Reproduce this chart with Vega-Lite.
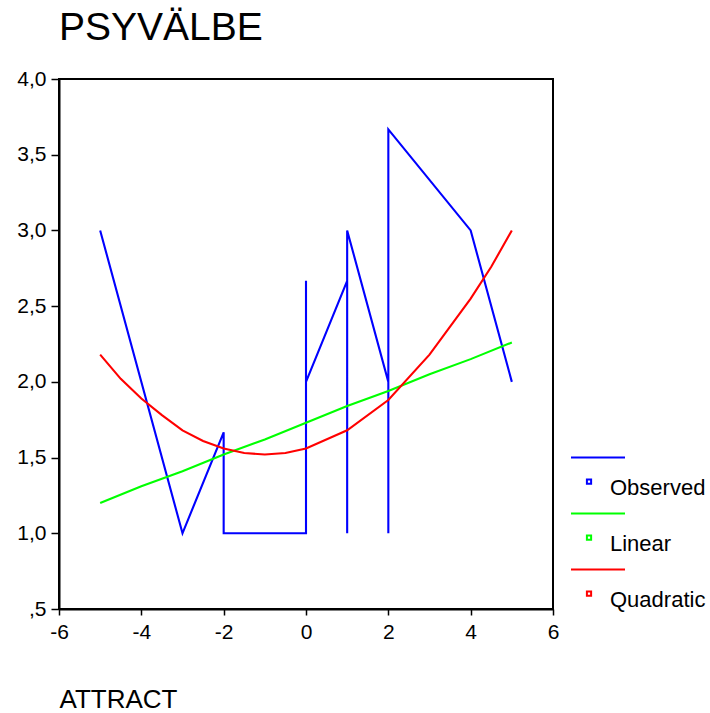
{
  "$schema": "https://vega.github.io/schema/vega-lite/v6.json",
  "width": 494,
  "height": 530,
  "autosize": "none",
  "padding": {"left": 59, "top": 79, "right": 157, "bottom": 104},
  "background": "white",
  "title": {"text": "PSYVÄLBE", "anchor": "start", "frame": "group", "offset": 20, "fontSize": 39, "font": "Liberation Sans", "fontWeight": "normal", "color": "black"},
  "config": {"view": {"stroke": "black", "strokeWidth": 2}, "font": "Liberation Sans"},
  "data": {"values": [
    {"series": "Observed", "seq": 1, "x": -5, "y": 3.0},
    {"series": "Observed", "seq": 2, "x": -3, "y": 1.0},
    {"series": "Observed", "seq": 3, "x": -2, "y": 1.667},
    {"series": "Observed", "seq": 4, "x": -2, "y": 1.333},
    {"series": "Observed", "seq": 5, "x": -2, "y": 1.0},
    {"series": "Observed", "seq": 6, "x": -1, "y": 1.0},
    {"series": "Observed", "seq": 7, "x": 0, "y": 1.0},
    {"series": "Observed", "seq": 8, "x": 0, "y": 2.667},
    {"series": "Observed", "seq": 9, "x": 0, "y": 2.0},
    {"series": "Observed", "seq": 10, "x": 1, "y": 2.667},
    {"series": "Observed", "seq": 11, "x": 1, "y": 1.0},
    {"series": "Observed", "seq": 12, "x": 1, "y": 3.0},
    {"series": "Observed", "seq": 13, "x": 2, "y": 2.0},
    {"series": "Observed", "seq": 14, "x": 2, "y": 1.0},
    {"series": "Observed", "seq": 15, "x": 2, "y": 3.667},
    {"series": "Observed", "seq": 16, "x": 4, "y": 3.0},
    {"series": "Observed", "seq": 17, "x": 5, "y": 2.0},
    {"series": "Linear", "seq": 1, "x": -5, "y": 1.20},
    {"series": "Linear", "seq": 2, "x": -4, "y": 1.31},
    {"series": "Linear", "seq": 3, "x": -3, "y": 1.41},
    {"series": "Linear", "seq": 4, "x": -2, "y": 1.52},
    {"series": "Linear", "seq": 5, "x": -1, "y": 1.62},
    {"series": "Linear", "seq": 6, "x": 0, "y": 1.73},
    {"series": "Linear", "seq": 7, "x": 1, "y": 1.84},
    {"series": "Linear", "seq": 8, "x": 2, "y": 1.94},
    {"series": "Linear", "seq": 9, "x": 3, "y": 2.05},
    {"series": "Linear", "seq": 10, "x": 4, "y": 2.15},
    {"series": "Linear", "seq": 11, "x": 5, "y": 2.26},
    {"series": "Quadratic", "seq": 1, "x": -5, "y": 2.18},
    {"series": "Quadratic", "seq": 2, "x": -4.5, "y": 2.02},
    {"series": "Quadratic", "seq": 3, "x": -4, "y": 1.89},
    {"series": "Quadratic", "seq": 4, "x": -3.5, "y": 1.78},
    {"series": "Quadratic", "seq": 5, "x": -3, "y": 1.68},
    {"series": "Quadratic", "seq": 6, "x": -2.5, "y": 1.61},
    {"series": "Quadratic", "seq": 7, "x": -2, "y": 1.56},
    {"series": "Quadratic", "seq": 8, "x": -1.5, "y": 1.53},
    {"series": "Quadratic", "seq": 9, "x": -1, "y": 1.52},
    {"series": "Quadratic", "seq": 10, "x": -0.5, "y": 1.53},
    {"series": "Quadratic", "seq": 11, "x": 0, "y": 1.56},
    {"series": "Quadratic", "seq": 12, "x": 1, "y": 1.68},
    {"series": "Quadratic", "seq": 13, "x": 2, "y": 1.88},
    {"series": "Quadratic", "seq": 14, "x": 3, "y": 2.18},
    {"series": "Quadratic", "seq": 15, "x": 4, "y": 2.55},
    {"series": "Quadratic", "seq": 16, "x": 4.5, "y": 2.76},
    {"series": "Quadratic", "seq": 17, "x": 5, "y": 3.0}
  ]},
  "mark": {"type": "line", "strokeWidth": 2.1, "interpolate": "linear"},
  "encoding": {
    "x": {"field": "x", "type": "quantitative",
      "scale": {"domain": [-6, 6], "nice": false, "zero": false},
      "axis": {"values": [-6, -4, -2, 0, 2, 4, 6], "labelExpr": "'' + datum.value", "grid": false,
        "labelFontSize": 21, "labelColor": "black", "labelFont": "Liberation Sans",
        "labelFlush": false, "labelOverlap": false,
        "tickColor": "black", "tickSize": 6, "tickWidth": 1.5,
        "domainColor": "black", "domainWidth": 2, "labelPadding": 6,
        "title": "ATTRACT", "titleFontSize": 26, "titleFontWeight": "normal", "titleColor": "black",
        "titleFont": "Liberation Sans",
        "titleAnchor": "start", "titleAlign": "left", "titleBaseline": "alphabetic",
        "titleX": 0, "titleY": 98}},
    "y": {"field": "y", "type": "quantitative",
      "scale": {"domain": [0.5, 4], "nice": false, "zero": false},
      "axis": {"values": [0.5, 1, 1.5, 2, 2.5, 3, 3.5, 4], "grid": false,
        "labelExpr": "datum.value == 0.5 ? ',5' : replace(format(datum.value, '.1f'), '.', ',')",
        "labelFontSize": 21, "labelColor": "black", "labelFont": "Liberation Sans",
        "labelFlush": false, "labelOverlap": false,
        "tickColor": "black", "tickSize": 8, "tickWidth": 1.5,
        "domainColor": "black", "domainWidth": 2, "labelPadding": 5,
        "title": null}},
    "color": {"field": "series", "type": "nominal",
      "scale": {"domain": ["Observed", "Linear", "Quadratic"], "range": ["#0000ff", "#00ff00", "#ff0000"]},
      "legend": {"orient": "none", "legendX": 511, "legendY": 381, "title": null,
        "labelFontSize": 22, "labelFont": "Liberation Sans", "labelColor": "black",
        "symbolType": "M-1,-1.13L1,-1.13M-0.411,-0.318L-0.255,-0.318L-0.255,-0.162L-0.411,-0.162Z",
        "symbolSize": 2916, "symbolStrokeWidth": 2, "symbolFillColor": "white",
        "labelOffset": -16, "rowPadding": 10, "padding": 0}},
    "order": {"field": "seq", "type": "quantitative"}
  }
}
